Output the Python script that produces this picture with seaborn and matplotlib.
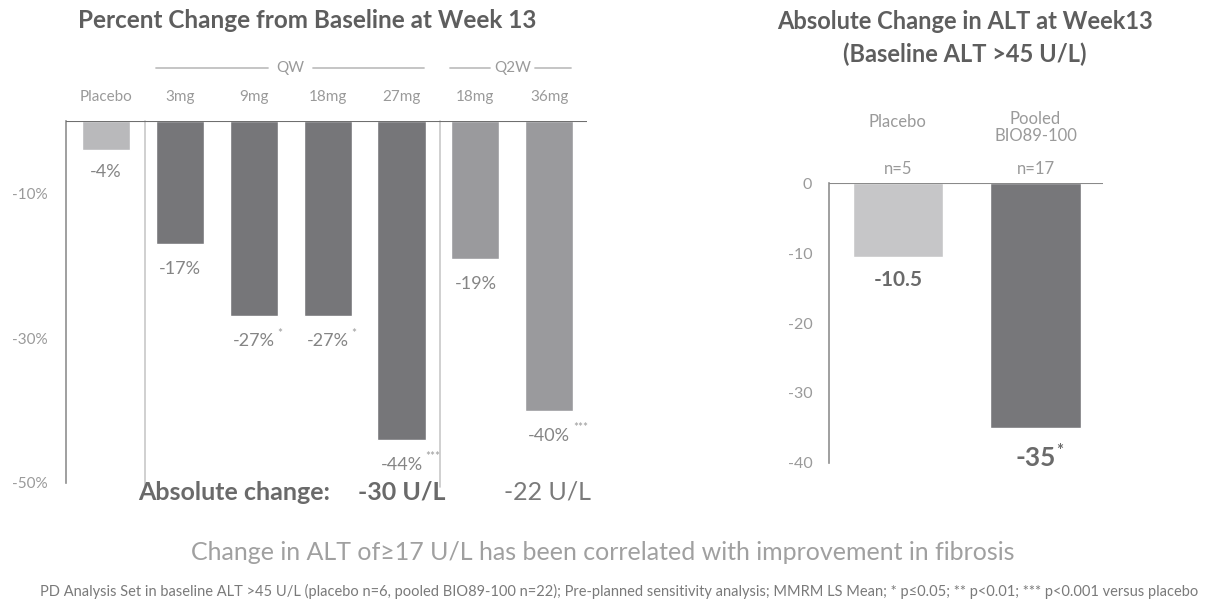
import matplotlib
matplotlib.use("Agg")
import matplotlib.pyplot as plt
import seaborn as sns

# ---------------- data ----------------
left_categories = ["Placebo", "3mg", "9mg", "18mg", "27mg", "18mg ", "36mg"]
left_tick_labels = ["Placebo", "3mg", "9mg", "18mg", "27mg", "18mg", "36mg"]
left_values = [-4, -17, -27, -27, -44, -19, -40]
left_value_labels = ["-4%", "-17%", "-27%", "-27%", "-44%", "-19%", "-40%"]
left_stars = ["", "", "*", "*", "***", "", "***"]
left_ticks = [-10, -30, -50]
left_tick_labels_y = ["-10%", "-30%", "-50%"]
abs_change_labels = ["-30 U/L", "-22 U/L"]

right_categories = ["Placebo", "Pooled\nBIO89-100"]
right_values = [-10.5, -35]
right_n = ["n=5", "n=17"]
right_value_labels = ["-10.5", "-35"]
right_stars = ["", "*"]
right_ticks = [0, -10, -20, -30, -40]

# ---------------- style ----------------
sns.set_style("white")
plt.rcParams["font.family"] = ["Lato", "DejaVu Sans"]
plt.rcParams["axes.unicode_minus"] = False

DARK = "#767679"
LIGHT = "#b9b9bb"
MID = "#9a9a9d"
TITLE = "#5e5e5e"
AXIS = "#8f8f8f"
LBL = "#9a9a9a"

W, H = 1207, 604
fig = plt.figure(figsize=(W / 100, H / 100), dpi=100)
fig.patch.set_facecolor("white")

def px_axes(x0, x1, ytop, ybot):
    return fig.add_axes([x0 / W, 1 - ybot / H, (x1 - x0) / W, (ybot - ytop) / H])

# ---------------- left chart ----------------
axL = px_axes(66, 587, 121, 483)
left_colors = [LIGHT, DARK, DARK, DARK, DARK, MID, MID]
sns.barplot(x=left_categories, y=left_values, hue=left_categories,
            palette=left_colors, width=0.65, ax=axL, legend=False,
            saturation=1, order=left_categories, hue_order=left_categories)
axL.set_xlim(-0.54, 6.51)
axL.set_ylim(-50, 0)
for s in ["top", "right", "bottom"]:
    axL.spines[s].set_visible(False)
axL.spines["left"].set_color(AXIS)
axL.spines["left"].set_linewidth(1.2)
axL.axhline(0, color="#6f6f6f", lw=1.5, zorder=3)
axL.set_xticks([])
axL.set_yticks(left_ticks)
axL.set_yticklabels(left_tick_labels_y)
axL.tick_params(axis="y", direction="out", length=5, width=1.2, color=AXIS,
                labelcolor=LBL, labelsize=11, pad=8)
axL.set_xlabel("")
axL.set_ylabel("")

# separators
for xs in [0.53, 4.52]:
    axL.plot([xs, xs], [0, -50.5], color="#c8c8c8", lw=1.2, clip_on=False, zorder=1)

# category labels above
for i, lab in enumerate(left_tick_labels):
    axL.text(i, 3.3, lab, ha="center", va="center", fontsize=11, color=LBL)

# group brackets
axL.text(2.5, 7.3, "QW", ha="center", va="center", fontsize=11, color=LBL)
axL.plot([0.68, 2.2], [7.3, 7.3], color="#c0c0c0", lw=1.3, clip_on=False)
axL.plot([2.8, 4.3], [7.3, 7.3], color="#c0c0c0", lw=1.3, clip_on=False)
axL.text(5.5, 7.3, "Q2W", ha="center", va="center", fontsize=11, color=LBL)
axL.plot([4.65, 5.2], [7.3, 7.3], color="#c0c0c0", lw=1.3, clip_on=False)
axL.plot([5.8, 6.3], [7.3, 7.3], color="#c0c0c0", lw=1.3, clip_on=False)

# value labels
for i, (v, lab, st) in enumerate(zip(left_values, left_value_labels, left_stars)):
    off = -16 if i == 0 else -18
    axL.annotate(lab, (i, v), xytext=(0, off), textcoords="offset points",
                 ha="center", va="center", fontsize=13, color="#858585")
    if st:
        axL.annotate(st, (i, v), xytext=(17, off + 6), textcoords="offset points",
                     ha="left", va="center", fontsize=8.5, color="#9a9a9a")

# absolute change row
axL.text(1.73, -51.3, "Absolute change:", ha="center", va="center", fontsize=18,
         fontweight="bold", color="#6a6a6a")
axL.text(4.0, -51.3, abs_change_labels[0], ha="center", va="center", fontsize=18,
         fontweight="bold", color="#6a6a6a")
axL.text(5.97, -51.3, abs_change_labels[1], ha="center", va="center", fontsize=18,
         color="#7a7a7a")

fig.text(307 / W, 1 - 20 / H, "Percent Change from Baseline at Week 13",
         ha="center", va="center", fontsize=17.5, fontweight="bold", color=TITLE)

# ---------------- right chart ----------------
axR = px_axes(829, 1103, 183, 463)
sns.barplot(x=right_categories, y=right_values, hue=right_categories,
            palette=["#c6c6c8", "#77777a"], width=0.655, ax=axR, legend=False,
            saturation=1)
axR.set_xlim(-0.5, 1.49)
axR.set_ylim(-40, 0)
for s in ["top", "right", "bottom"]:
    axR.spines[s].set_visible(False)
axR.spines["left"].set_color(AXIS)
axR.spines["left"].set_linewidth(1.2)
axR.axhline(0, color="#8a8a8a", lw=1.5, zorder=3)
axR.set_xticks([])
axR.set_yticks(right_ticks)
axR.tick_params(axis="y", direction="out", length=6, width=1.2, color=AXIS,
                labelcolor=LBL, labelsize=11.5, pad=6)
axR.set_xlabel("")
axR.set_ylabel("")

axR.text(0, 8.7, "Placebo", ha="center", va="center", fontsize=12, color=LBL)
axR.text(1, 7.9, "Pooled\nBIO89-100", ha="center", va="center", fontsize=12,
         color=LBL, linespacing=1.05)
for i, n in enumerate(right_n):
    axR.text(i, 2.0, n, ha="center", va="center", fontsize=12, color=LBL)

axR.text(0, -13.9, right_value_labels[0], ha="center", va="center", fontsize=15,
         fontweight="bold", color="#6a6a6a")
axR.text(1, -39.3, right_value_labels[1], ha="center", va="center", fontsize=19,
         fontweight="bold", color="#6a6a6a")
axR.annotate(right_stars[1], (1, -39.3), xytext=(15, 5), textcoords="offset points",
             ha="left", va="center", fontsize=12, fontweight="bold", color="#6a6a6a")

fig.text(965 / W, 1 - 38 / H, "Absolute Change in ALT at Week13\n(Baseline ALT >45 U/L)",
         ha="center", va="center", fontsize=17, fontweight="bold", color=TITLE,
         linespacing=1.45)

# ---------------- footer ----------------
fig.text(603 / W, 1 - 553 / H,
         "Change in ALT of\u226517 U/L has been correlated with improvement in fibrosis",
         ha="center", va="center", fontsize=18, color="#a0a0a0")
fig.text(619 / W, 1 - 591 / H,
         "PD Analysis Set in baseline ALT >45 U/L (placebo n=6, pooled BIO89-100 n=22); "
         "Pre-planned sensitivity analysis; MMRM LS Mean; * p\u22640.05; ** p<0.01; "
         "*** p<0.001 versus placebo",
         ha="center", va="center", fontsize=10.5, color="#7a7a7a")

fig.savefig("out.png", dpi=100, facecolor="white")
